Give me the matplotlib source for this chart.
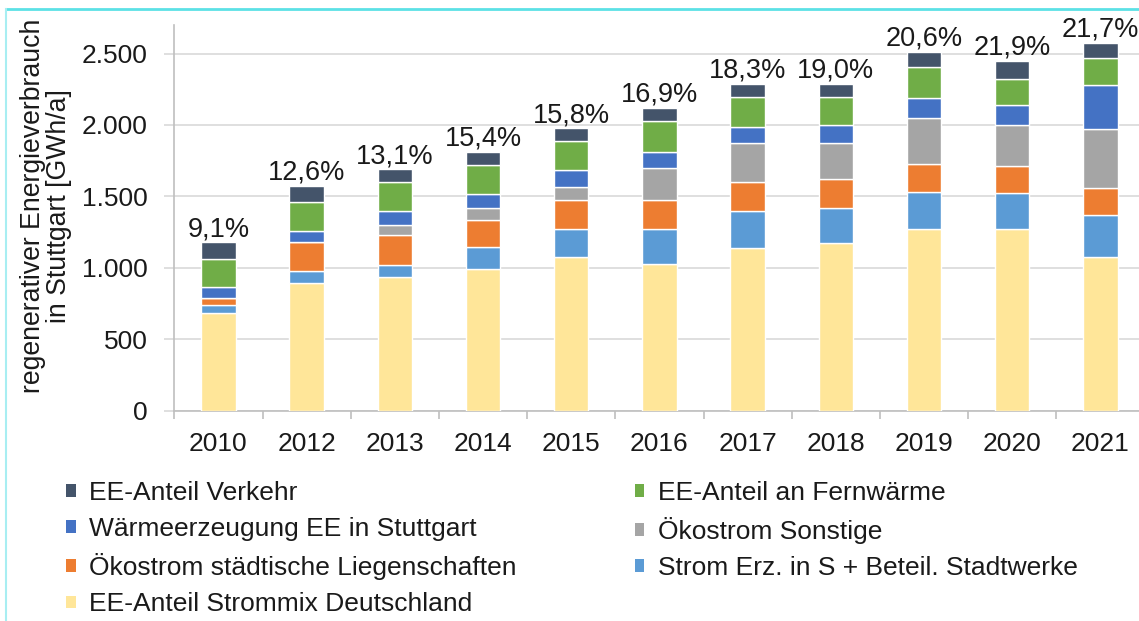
import matplotlib
matplotlib.use("Agg")
import matplotlib.pyplot as plt
from matplotlib.patches import Patch
from matplotlib.lines import Line2D
from matplotlib.ticker import FuncFormatter, FixedLocator
import numpy as np

plt.rcParams['font.family'] = ['Liberation Sans', 'DejaVu Sans']

years = ['2010', '2012', '2013', '2014', '2015', '2016', '2017', '2018', '2019', '2020', '2021']
strommix = [683, 895, 933, 989, 1075, 1024, 1140, 1173, 1273, 1271, 1075]
strom_erz = [60, 84, 90, 154, 196, 247, 257, 243, 257, 252, 297]
oeko_staedt = [45, 199, 206, 193, 205, 201, 203, 205, 198, 187, 189]
oeko_sonst = [0, 0, 72, 82, 92, 224, 273, 253, 323, 288, 414]
waerme = [81, 82, 99, 96, 116, 118, 114, 127, 141, 144, 303]
fernwaerme = [192, 202, 198, 203, 207, 214, 211, 197, 211, 182, 193]
verkehr = [117, 112, 91, 97, 86, 91, 92, 92, 111, 127, 106]
shares = ['9,1%', '12,6%', '13,1%', '15,4%', '15,8%', '16,9%', '18,3%', '19,0%', '20,6%', '21,9%', '21,7%']

series = [
    ('EE-Anteil Strommix Deutschland', strommix, '#FFE699'),
    ('Strom Erz. in S + Beteil. Stadtwerke', strom_erz, '#5B9BD5'),
    ('Ökostrom städtische Liegenschaften', oeko_staedt, '#ED7D31'),
    ('Ökostrom Sonstige', oeko_sonst, '#A5A5A5'),
    ('Wärmeerzeugung EE in Stuttgart', waerme, '#4472C4'),
    ('EE-Anteil an Fernwärme', fernwaerme, '#70AD47'),
    ('EE-Anteil Verkehr', verkehr, '#44546A'),
]

W, H = 1139, 621
fig = plt.figure(figsize=(W / 100, H / 100), dpi=100)
ax_left, ax_right, ax_bottom, ax_top = 174.3, 1144.5, 410.7, 25
ax = fig.add_axes([ax_left / W, (H - ax_bottom) / H, (ax_right - ax_left) / W, (ax_bottom - ax_top) / H])

x = np.arange(len(years))
bottom = np.zeros(len(years))
handles = {}
for name, vals, col in series:
    v = np.array(vals, dtype=float)
    ax.bar(x, v, bottom=bottom, width=0.39, color=col, edgecolor='white', linewidth=1.0, zorder=3)
    handles[name] = Patch(facecolor=col, edgecolor='none')
    bottom = bottom + v

txtcol = '#1a1a1a'
fs = 19
for xi, tot, s in zip(x, bottom, shares):
    ax.annotate(s, (xi, tot), xytext=(0, 0), textcoords='offset points',
                ha='center', va='bottom', fontsize=19.5, color=txtcol, clip_on=False)

ax.set_xlim(-0.5, len(years) - 0.5)
ax.set_ylim(0, 2700)
ax.yaxis.set_major_locator(FixedLocator([0, 500, 1000, 1500, 2000, 2500]))
ax.yaxis.set_major_formatter(FuncFormatter(lambda v, p: f'{int(v):,}'.replace(',', '.')))
ax.grid(axis='y', color='#D9D9D9', linewidth=1.2, zorder=0)
ax.set_axisbelow(True)

ax.set_xticks(x)
ax.set_xticklabels(years)
ax.set_xticks(np.arange(len(years) + 1) - 0.5, minor=True)
ax.tick_params(axis='x', which='major', length=0, pad=15, labelsize=fs, labelcolor=txtcol)
ax.tick_params(axis='x', which='minor', length=6, width=1.2, color='#BFBFBF')
ax.tick_params(axis='y', which='major', length=7, width=1.2, color='#D9D9D9', pad=12,
               labelsize=fs, labelcolor=txtcol)

for sp in ['top', 'right']:
    ax.spines[sp].set_visible(False)
for sp in ['left', 'bottom']:
    ax.spines[sp].set_color('#BFBFBF')
    ax.spines[sp].set_linewidth(1.2)

fig.text(46 / W, (H - 206) / H, 'regenerativer Energieverbrauch\nin Stuttgart [GWh/a]',
         rotation=90, ha='center', va='center', multialignment='center',
         fontsize=19.2, color=txtcol, linespacing=0.98)

order = ['EE-Anteil Verkehr', 'Wärmeerzeugung EE in Stuttgart', 'Ökostrom städtische Liegenschaften',
         'EE-Anteil Strommix Deutschland', 'EE-Anteil an Fernwärme', 'Ökostrom Sonstige',
         'Strom Erz. in S + Beteil. Stadtwerke']
leg = fig.legend([handles[n] for n in order], order, ncol=2, loc='upper left',
                 bbox_to_anchor=(66 / W, (H - 481) / H), frameon=False, fontsize=fs,
                 handlelength=0.36, handleheight=0.36, handletextpad=0.5,
                 labelspacing=0.46, columnspacing=4.5, borderpad=0, borderaxespad=0)
for t in leg.get_texts():
    t.set_color(txtcol)

fig.add_artist(Line2D([6 / W, 1], [(H - 9) / H, (H - 9) / H], color='#5CE1E6', linewidth=2))
fig.add_artist(Line2D([6 / W, 6 / W], [0, (H - 9) / H], color='#A8EEF2', linewidth=1.5))

fig.savefig('out.png', dpi=100)
